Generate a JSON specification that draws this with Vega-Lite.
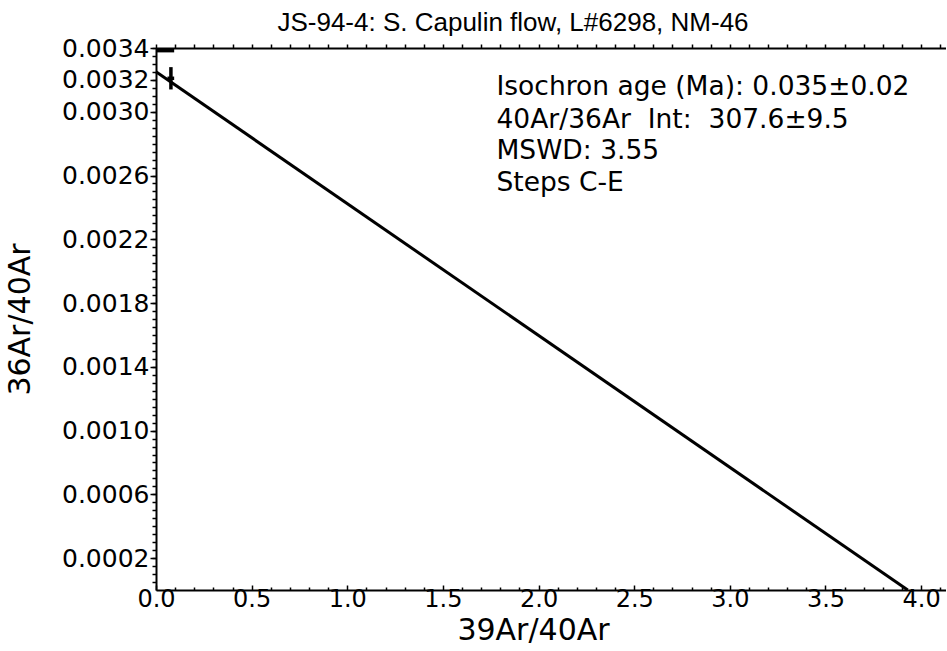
{
  "$schema": "https://vega.github.io/schema/vega-lite/v6.json",
  "width": 790,
  "height": 542,
  "autosize": {"type": "none"},
  "padding": {"left": 156, "top": 48, "right": 0, "bottom": 61},
  "background": "white",
  "title": {"text": "JS-94-4: S. Capulin flow, L#6298, NM-46", "font": "Liberation Sans", "fontSize": 26, "fontWeight": "normal", "color": "black", "anchor": "middle", "dx": -38, "offset": 0},
  "config": {
    "view": {"stroke": null},
    "axis": {"domainColor": "black", "tickColor": "black", "labelColor": "black", "titleColor": "black", "grid": false, "labelFont": "DejaVu Sans", "titleFont": "DejaVu Sans", "titleFontWeight": "normal", "domainWidth": 2, "tickWidth": 1.5}
  },
  "datasets": {
    "isochron": [{"x": 0, "y": 0.003251}, {"x": 3.93, "y": 0}],
    "errbars": [
      {"x": 0, "x2": 0.095, "y": 0.003385, "y2": 0.003385, "w": "thick"},
      {"x": 0.078, "x2": 0.078, "y": 0.00314, "y2": 0.00328, "w": "thin"},
      {"x": 0.06, "x2": 0.095, "y": 0.00321, "y2": 0.00321, "w": "thin"}
    ],
    "notes": [
      {"x": 1.78, "y": 0.003155, "t": "Isochron age (Ma): 0.035±0.02"},
      {"x": 1.78, "y": 0.002948, "t": "40Ar/36Ar\u00a0 Int:\u00a0 307.6±9.5"},
      {"x": 1.78, "y": 0.002754, "t": "MSWD: 3.55"},
      {"x": 1.78, "y": 0.002553, "t": "Steps C-E"}
    ]
  },
  "layer": [
    {
      "data": {"name": "isochron"},
      "mark": {"type": "line", "color": "black", "strokeWidth": 3},
      "encoding": {
        "x": {"field": "x", "type": "quantitative", "scale": {"domain": [0, 4.13], "nice": false, "zero": false},
          "axis": {"orient": "bottom", "values": [0, 0.5, 1, 1.5, 2, 2.5, 3, 3.5, 4], "format": ".1f", "title": "39Ar/40Ar", "labelFontSize": 24, "titleFontSize": 30, "tickSize": -5, "labelPadding": 2, "titlePadding": 4, "titleX": 377, "labelFlush": false}},
        "y": {"field": "y", "type": "quantitative", "scale": {"domain": [0, 0.0034], "nice": false, "zero": false},
          "axis": {"orient": "left", "values": [0.0002, 0.0006, 0.001, 0.0014, 0.0018, 0.0022, 0.0026, 0.003, 0.0032, 0.0034], "format": ".4f", "title": "36Ar/40Ar", "labelFontSize": 25, "titleFontSize": 30, "tickSize": 6, "labelPadding": 1, "titlePadding": 26, "labelFlush": false}}
      }
    },
    {
      "data": {"name": "errbars"},
      "mark": {"type": "rule", "color": "black"},
      "encoding": {
        "x": {"field": "x", "type": "quantitative", "axis": null},
        "x2": {"field": "x2"},
        "y": {"field": "y", "type": "quantitative", "axis": null},
        "y2": {"field": "y2"},
        "strokeWidth": {"field": "w", "type": "nominal", "scale": {"domain": ["thick", "thin"], "range": [4, 3.5]}, "legend": null}
      }
    },
    {
      "data": {"name": "notes"},
      "mark": {"type": "text", "align": "left", "baseline": "middle", "font": "DejaVu Sans", "fontSize": 26.5, "color": "black"},
      "encoding": {
        "x": {"field": "x", "type": "quantitative", "axis": null},
        "y": {"field": "y", "type": "quantitative", "axis": null},
        "text": {"field": "t"}
      }
    },
    {
      "data": {"name": "isochron"},
      "mark": {"type": "line", "strokeOpacity": 0},
      "encoding": {
        "x": {"field": "x", "type": "quantitative",
          "axis": {"orient": "bottom", "values": [0.1, 0.2, 0.3, 0.4, 0.6, 0.7, 0.8, 0.9, 1.1, 1.2, 1.3, 1.4, 1.6, 1.7, 1.8, 1.9, 2.1, 2.2, 2.3, 2.4, 2.6, 2.7, 2.8, 2.9, 3.1, 3.2, 3.3, 3.4, 3.6, 3.7, 3.8, 3.9, 4.1], "labels": false, "title": null, "domain": false, "tickSize": -3}},
        "y": {"field": "y", "type": "quantitative", "axis": null}
      }
    },
    {
      "data": {"name": "isochron"},
      "mark": {"type": "line", "strokeOpacity": 0},
      "encoding": {
        "x": {"field": "x", "type": "quantitative",
          "axis": {"orient": "top", "values": [0, 0.1, 0.2, 0.3, 0.4, 0.5, 0.6, 0.7, 0.8, 0.9, 1, 1.1, 1.2, 1.3, 1.4, 1.5, 1.6, 1.7, 1.8, 1.9, 2, 2.1, 2.2, 2.3, 2.4, 2.5, 2.6, 2.7, 2.8, 2.9, 3, 3.1, 3.2, 3.3, 3.4, 3.5, 3.6, 3.7, 3.8, 3.9, 4, 4.1], "labels": false, "title": null, "tickSize": 4}},
        "y": {"field": "y", "type": "quantitative", "axis": null}
      }
    },
    {
      "data": {"name": "isochron"},
      "mark": {"type": "line", "strokeOpacity": 0},
      "encoding": {
        "x": {"field": "x", "type": "quantitative", "axis": null},
        "y": {"field": "y", "type": "quantitative",
          "axis": {"orient": "left", "values": [0.00005, 0.0001, 0.00015, 0.0002, 0.00025, 0.0003, 0.00035, 0.0004, 0.00045, 0.0005, 0.00055, 0.0006, 0.00065, 0.0007, 0.00075, 0.0008, 0.00085, 0.0009, 0.00095, 0.001, 0.00105, 0.0011, 0.00115, 0.0012, 0.00125, 0.0013, 0.00135, 0.0014, 0.00145, 0.0015, 0.00155, 0.0016, 0.00165, 0.0017, 0.00175, 0.0018, 0.00185, 0.0019, 0.00195, 0.002, 0.00205, 0.0021, 0.00215, 0.0022, 0.00225, 0.0023, 0.00235, 0.0024, 0.00245, 0.0025, 0.00255, 0.0026, 0.00265, 0.0027, 0.00275, 0.0028, 0.00285, 0.0029, 0.00295, 0.003, 0.00305, 0.0031, 0.00315, 0.0032, 0.00325, 0.0033, 0.00335, 0.0034], "labels": false, "title": null, "domain": false, "tickSize": 4}}
      }
    }
  ],
  "resolve": {"axis": {"x": "independent", "y": "independent"}}
}
